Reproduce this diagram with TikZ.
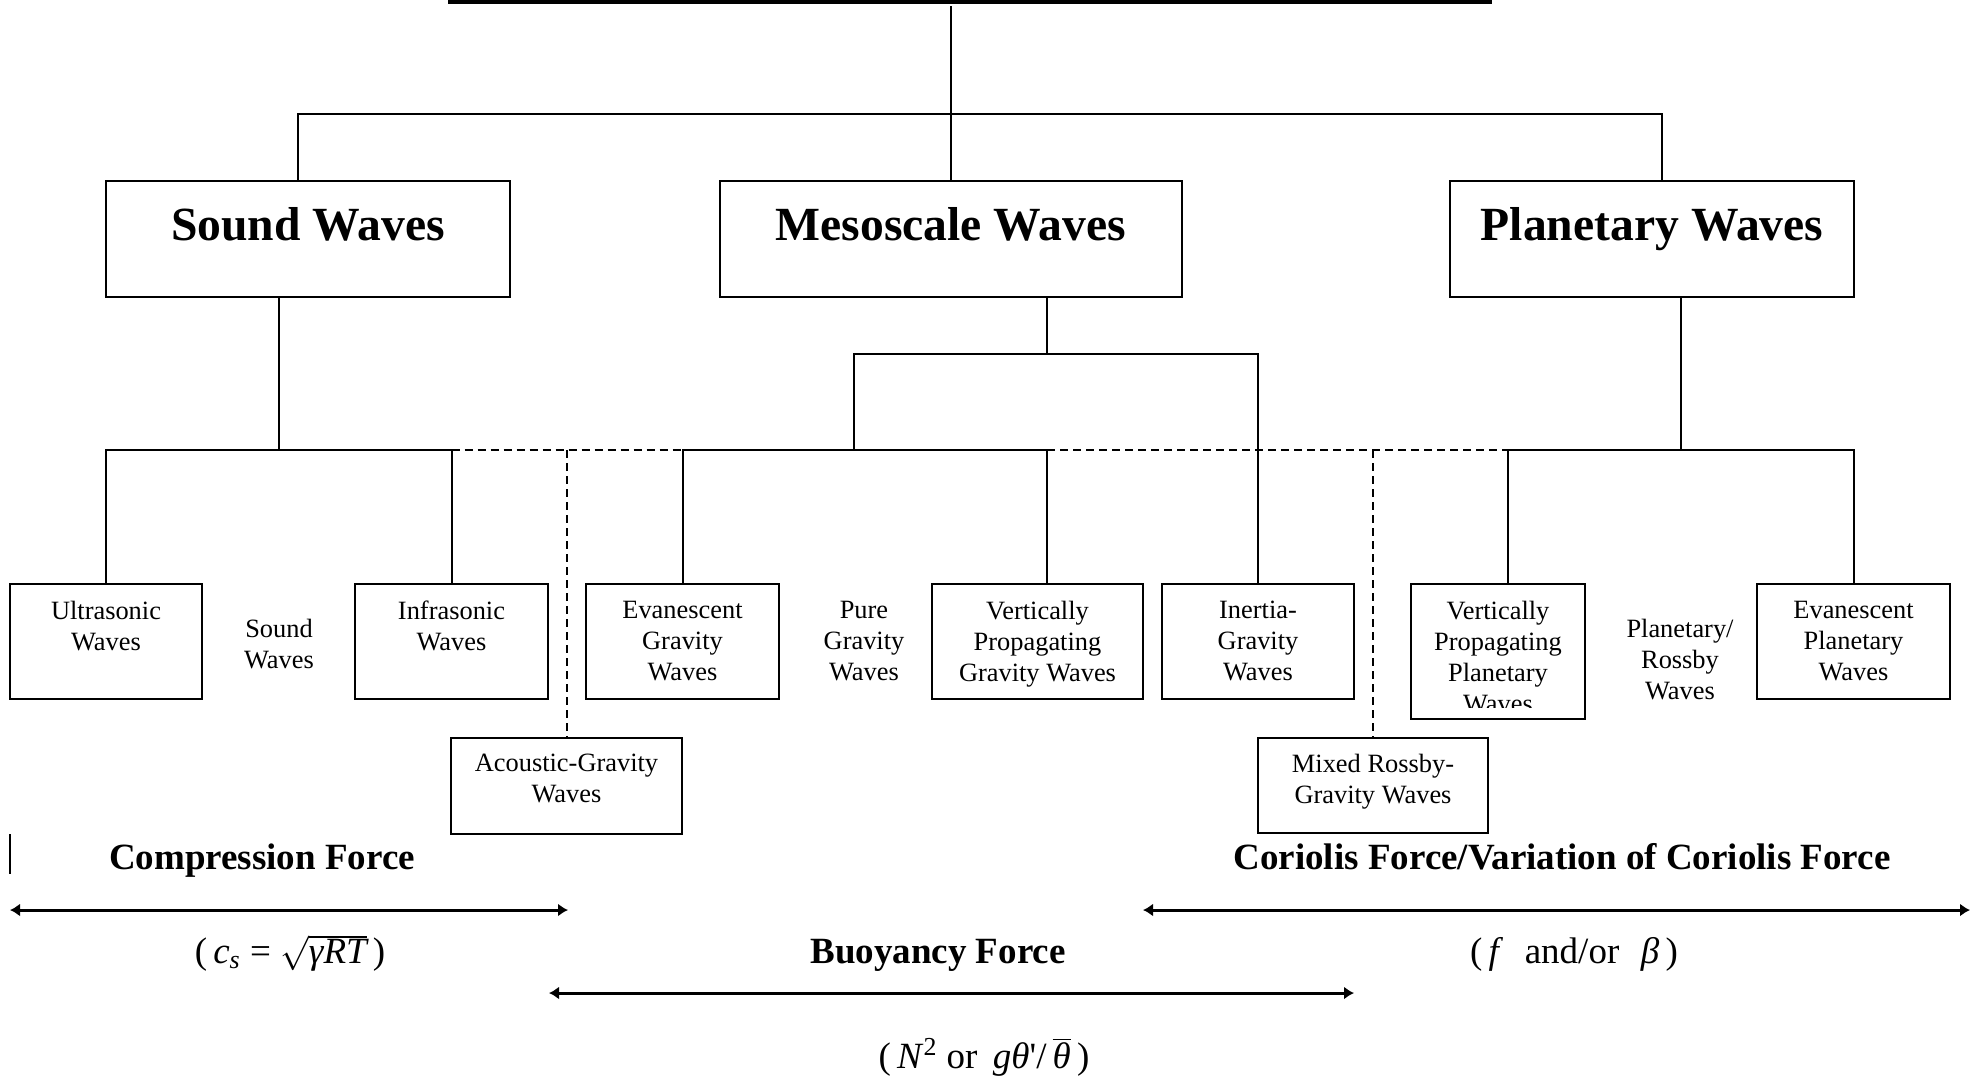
\documentclass[tikz,border=0pt]{standalone}
\usepackage{fontspec}
\setmainfont{Liberation Serif}
\usetikzlibrary{positioning,fit,arrows.meta}
\begin{document}
\begin{tikzpicture}[x=0.5pt,y=-0.5pt,
    wavebox/.style={draw,line width=1.1pt,inner sep=0pt},
    headtext/.style={inner sep=0pt,font=\bfseries\fontsize{23.8}{28}\selectfont},
    wavetext/.style={inner sep=0pt,align=center,font=\fontsize{13.2}{15.5}\selectfont},
    forcetext/.style={inner sep=0pt,anchor=base,font=\bfseries\fontsize{18.5}{22}\selectfont},
    formula/.style={inner sep=0pt,anchor=base,font=\fontsize{18.5}{22}\selectfont},
    branch/.style={line width=1pt},
    dashbranch/.style={line width=1pt,dash pattern=on 4pt off 2.5pt},
    forcearrow/.style={line width=1.5pt,{Latex[length=5pt,width=6.5pt]}-{Latex[length=5pt,width=6.5pt]}}]
      \useasboundingbox (0,0) rectangle (1979,1078);

      \node[wavebox,fit={(106,181) (510,297)}] (sound) {};
      \node[wavebox,fit={(720,181) (1182,297)}] (meso) {};
      \node[wavebox,fit={(1450,181) (1854,297)}] (plan) {};
      \node[headtext,below=13.5pt of sound.north] (soundtxt) {Sound Waves};
      \node[headtext,below=13.5pt of meso.north] (mesotxt) {Mesoscale Waves};
      \node[headtext,below=13.5pt of plan.north] (plantxt) {Planetary Waves};

      \node[wavebox,fit={(10,584) (202,699)}] (ultra) {};
      \node[wavebox,fit={(355,584) (548,699)}] (infra) {};
      \node[wavebox,fit={(586,584) (779,699)}] (evg) {};
      \node[wavebox,fit={(932,584) (1143,699)}] (vpg) {};
      \node[wavebox,fit={(1162,584) (1354,699)}] (inertia) {};
      \node[wavebox,fit={(1411,584) (1585,719)}] (vpp) {};
      \node[wavebox,fit={(1757,584) (1950,699)}] (evp) {};
      \node[wavebox,fit={(451,738) (682,834)}] (acoustic) {};
      \node[wavebox,fit={(1258,738) (1488,833)}] (mixed) {};

      \node[wavetext,below=9pt of ultra.north] (ultratxt) {Ultrasonic\\Waves};
      \node[wavetext,below=9pt of infra.north] (infratxt) {Infrasonic\\Waves};
      \node[wavetext,below=9pt of evg.north] (evgtxt) {Evanescent\\Gravity\\Waves};
      \node[wavetext,below=9pt of vpg.north] (vpgtxt) {Vertically\\Propagating\\Gravity Waves};
      \node[wavetext,below=9pt of inertia.north] (inertiatxt) {Inertia-\\Gravity\\Waves};
      \node[wavetext,below=9pt of evp.north] (evptxt) {Evanescent\\Planetary\\Waves};
      \node[wavetext,below=8.5pt of acoustic.north] (acoustictxt) {Acoustic-Gravity\\Waves};
      \node[wavetext,below=8.5pt of mixed.north] (mixedtxt) {Mixed Rossby-\\Gravity Waves};
      \begin{scope}
        \clip (1411,584) rectangle (1585,707);
        \node[wavetext,below=9pt of vpp.north] (vpptxt) {Vertically\\Propagating\\Planetary\\Waves};
      \end{scope}
      \node[wavetext,anchor=north] (soundsub) at (279,619) {Sound\\Waves};
      \node[wavetext,anchor=north] (puregw) at (864,601) {Pure\\Gravity\\Waves};
      \node[wavetext,anchor=north] (rossby) at (1680,619) {Planetary/\\Rossby\\Waves};

      \coordinate (top) at (951,6);
      \coordinate (hub) at (951,114);
      \coordinate (sbus) at (279,450);
      \coordinate (mbus) at (1047,354);
      \coordinate (gbus) at (854,450);
      \coordinate (ptap) at (1508,450);
      \coordinate (pbus) at (1681,450);

      \draw[line width=2pt] (448,1.5) -- (1492,1.5);
      \draw[branch] (top) -- (meso.north);
      \draw[branch] ([xshift=-5pt]sound.north) |- (hub) -| ([xshift=5pt]plan.north);

      \draw[branch] (sound.south -| sbus) -- (sbus);
      \draw[branch] (ultra.north) |- (sbus) -| (infra.north);
      \draw[dashbranch] (infra.north |- sbus) -- (evg.north |- sbus);
      \draw[dashbranch] (acoustic.north |- sbus) -- (acoustic.north);

      \draw[branch] (meso.south -| mbus) -- (mbus);
      \draw[branch] (gbus) |- (mbus) -| (inertia.north);
      \draw[branch] (evg.north) |- (gbus) -| (vpg.north -| mbus);
      \draw[dashbranch] (gbus -| mbus) -- (ptap);
      \draw[dashbranch] (mixed.north |- ptap) -- (mixed.north);

      \draw[branch] (plan.south -| pbus) -- (pbus);
      \draw[branch] (vpp.north -| ptap) -- (ptap) -- (pbus) -| (evp.north);

      \draw[branch] (10,834) -- (10,874);

      \coordinate (cleft) at (10,910);
      \coordinate (cright) at (568,910);
      \coordinate (bleft) at (549,993);
      \coordinate (bright) at (1354,993);
      \coordinate (qleft) at (1143,910);
      \coordinate (qright) at (1970,910);
      \draw[forcearrow] (cleft) -- (cright);
      \draw[forcearrow] (bleft) -- (bright);
      \draw[forcearrow] (qleft) -- (qright);

      \node[forcetext] (compress) at (262,869) {Compression Force};
      \node[forcetext] (coriolis) at (1562,869) {Coriolis Force/Variation of Coriolis Force};
      \node[forcetext] (buoy) at (938,963) {Buoyancy Force};
      \node[formula] (cs) at (290,963) {(\,\textit{c}\textsubscript{\textit{s}} = $\sqrt{\hbox{\itshape γRT}}$\,)};
      \node[formula] (fbeta) at (1574,963) {(\,\textit{f}\,\, and/or\,\, \textit{β}\,)};
      \node[formula] (nsq) at (984,1068) {(\,\textit{N}\textsuperscript{2} or \,\textit{gθ}\textquotesingle/\,$\overline{\hbox{\itshape θ}}$\,)};
    \end{tikzpicture}
\end{document}
